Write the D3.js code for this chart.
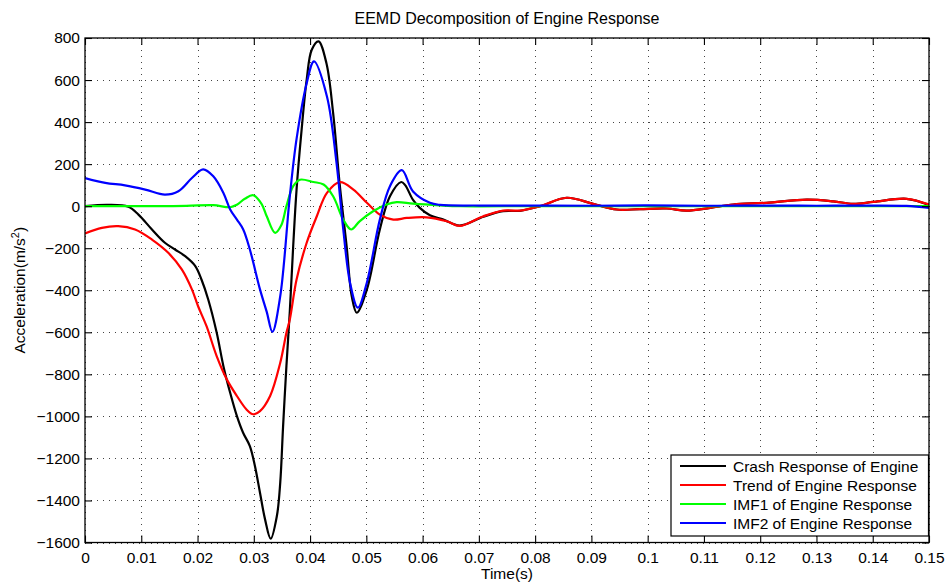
<!DOCTYPE html>
<html>
<head>
<meta charset="utf-8">
<script src="https://cdn.jsdelivr.net/npm/d3@7"></script>
<style>
  body { margin: 0; background: #fff; }
  svg { display: block; font-family: "Liberation Sans", Arial, Helvetica, sans-serif; }
</style>
</head>
<body>
<svg id="chart" width="947" height="585"></svg>
<script>
// ---- Data (time in s, acceleration in m/s^2) ----
const seriesNames = ["Crash Response of Engine", "Trend of Engine Response", "IMF1 of Engine Response", "IMF2 of Engine Response"];
const seriesColors = ["#000000", "#ff0000", "#00ff00", "#0000ff"];

const crash = [
  [0, 0], [0.0041, 6], [0.0077, -3], [0.0095, -40], [0.0119, -111], [0.0142, -174], [0.016, -206],
  [0.0178, -238], [0.0196, -285], [0.0207, -349], [0.0219, -444], [0.0234, -601], [0.0246, -761],
  [0.0258, -888], [0.027, -999], [0.0281, -1078], [0.0293, -1141], [0.0302, -1236], [0.0311, -1363],
  [0.032, -1490], [0.033, -1582], [0.0341, -1474], [0.0347, -1315], [0.0352, -1050], [0.0358, -760],
  [0.0364, -500], [0.037, -191], [0.0376, 79], [0.0385, 364], [0.0394, 602], [0.0403, 744],
  [0.0415, 784], [0.0429, 681], [0.0441, 443], [0.0453, 95], [0.0465, -191], [0.0474, -428],
  [0.0483, -507], [0.0501, -396], [0.0524, -111], [0.0542, 47], [0.0562, 115], [0.0569, 100],
  [0.0583, 30], [0.0595, -8], [0.0613, -43], [0.0637, -64], [0.0666, -92], [0.0708, -50],
  [0.0743, -24], [0.0773, -22], [0.0809, 0], [0.0856, 40], [0.0903, 11], [0.0945, -16],
  [0.0986, -14], [0.1034, -11], [0.1069, -21], [0.1111, -8], [0.1152, 8], [0.1211, 16],
  [0.1283, 31], [0.133, 23], [0.1365, 11], [0.1401, 20], [0.146, 35], [0.15, 6]
];

const trend = [
  [0, -130], [0.003, -103], [0.0059, -95], [0.0089, -111], [0.0119, -159], [0.0148, -222],
  [0.0172, -301], [0.019, -396], [0.0201, -476], [0.0216, -571], [0.0234, -713], [0.0252, -824],
  [0.027, -903], [0.0287, -967], [0.0299, -990], [0.0311, -975], [0.0329, -903], [0.0347, -745],
  [0.0358, -602], [0.0364, -539], [0.0376, -349], [0.0394, -174], [0.0412, -48], [0.043, 63],
  [0.0453, 114], [0.0477, 79], [0.0501, 16], [0.0524, -40], [0.0548, -64], [0.0572, -56],
  [0.0607, -53], [0.0643, -72], [0.0666, -94], [0.0708, -48], [0.0743, -21], [0.0773, -21],
  [0.0809, 0], [0.0856, 40], [0.0903, 11], [0.0945, -16], [0.0986, -14], [0.1034, -11],
  [0.1069, -21], [0.1111, -8], [0.1152, 8], [0.1211, 16], [0.1283, 31], [0.133, 23],
  [0.1365, 11], [0.1401, 20], [0.146, 35], [0.15, 8]
];

const imf1 = [
  [0, 0], [0.01, 0], [0.018, 1], [0.0228, 5], [0.0258, -5], [0.027, 7], [0.0284, 35],
  [0.0299, 52], [0.0314, 10], [0.0323, -48], [0.0338, -127], [0.0349, -90], [0.0358, 0],
  [0.037, 95], [0.0382, 126], [0.0406, 115], [0.0424, 103], [0.0441, 47], [0.0459, -64],
  [0.0473, -111], [0.0488, -72], [0.0512, -24], [0.0536, 8], [0.0554, 19], [0.0583, 12],
  [0.0631, 4], [0.0666, 0], [0.08, 0], [0.1, 0], [0.12, 0], [0.14, 0], [0.15, 0]
];

const imf2 = [
  [0, 134], [0.0036, 111], [0.0071, 99], [0.0107, 79], [0.0142, 55], [0.0166, 71], [0.019, 134],
  [0.021, 175], [0.0228, 142], [0.0246, 63], [0.0258, -16], [0.027, -64], [0.0281, -110],
  [0.0293, -206], [0.0311, -396], [0.0323, -503], [0.0333, -598], [0.0347, -428], [0.0364, 47],
  [0.0376, 320], [0.0394, 585], [0.0407, 689], [0.043, 522], [0.0447, 206], [0.0459, -111],
  [0.0471, -364], [0.0485, -483], [0.0501, -363], [0.0524, -64], [0.0542, 95], [0.0563, 171],
  [0.0583, 70], [0.0613, 16], [0.0631, 6], [0.07, 3], [0.08, 3], [0.09, 2], [0.1, 4],
  [0.11, 2], [0.12, 3], [0.13, 2], [0.14, 3], [0.146, 1], [0.15, -8]
];

const allSeries = [crash, trend, imf1, imf2];
const xTickLabels = ["0", "0.01", "0.02", "0.03", "0.04", "0.05", "0.06", "0.07", "0.08", "0.09", "0.1", "0.11", "0.12", "0.13", "0.14", "0.15"];
const yTickValues = [-1600, -1400, -1200, -1000, -800, -600, -400, -200, 0, 200, 400, 600, 800];

// ---- Layout ----
const svg = d3.select("#chart");
const mLeft = 85, mRight = 929, mTop = 38, mBottom = 542.5;
const x = d3.scaleLinear().domain([0, 0.15]).range([mLeft, mRight]);
const y = d3.scaleLinear().domain([-1600, 800]).range([mBottom, mTop]);
const fontSize = 15.5;
const tickLen = 7;

svg.append("rect").attr("x", 0).attr("y", 0).attr("width", 947).attr("height", 585).attr("fill", "#fff");

// grid
const grid = svg.append("g").attr("stroke", "#444").attr("stroke-width", 1).attr("stroke-dasharray", "1,5");
xTickLabels.forEach(l => {
  const xv = Math.round(x(+l)) + 0.5;
  grid.append("line").attr("x1", xv).attr("x2", xv).attr("y1", mTop).attr("y2", mBottom);
});
yTickValues.forEach(v => {
  const yv = Math.round(y(v)) + 0.5;
  grid.append("line").attr("x1", mLeft).attr("x2", mRight).attr("y1", yv).attr("y2", yv);
});

// curves
svg.append("clipPath").attr("id", "clip").append("rect")
  .attr("x", mLeft).attr("y", mTop - 2).attr("width", mRight - mLeft).attr("height", mBottom - mTop + 4);
const line = d3.line().x(d => x(d[0])).y(d => y(d[1])).curve(d3.curveCatmullRom.alpha(0.5));
const curves = svg.append("g").attr("clip-path", "url(#clip)");
[0, 1, 2, 3].forEach(i => {
  curves.append("path").datum(allSeries[i]).attr("d", line)
    .attr("fill", "none").attr("stroke", seriesColors[i]).attr("stroke-width", 2.2)
    .attr("stroke-linejoin", "round");
});

// axes box with inward ticks (MATLAB style)
const xAxisB = d3.axisBottom(x).tickValues(xTickLabels.map(Number)).tickSize(-tickLen).tickPadding(9)
  .tickFormat((d, i) => xTickLabels[i]);
const xAxisT = d3.axisTop(x).tickValues(xTickLabels.map(Number)).tickSize(-tickLen).tickFormat("");
const yAxisL = d3.axisLeft(y).tickValues(yTickValues).tickSize(-tickLen).tickPadding(5)
  .tickFormat(d3.format("d"));
const yAxisR = d3.axisRight(y).tickValues(yTickValues).tickSize(-tickLen).tickFormat("");

function style(g) {
  g.selectAll(".tick line").attr("stroke", "#000").attr("stroke-width", 1.1);
  g.selectAll(".tick text").attr("fill", "#000").attr("font-size", fontSize).attr("font-family", "Liberation Sans, Arial, sans-serif");
}
svg.append("g").attr("transform", `translate(0,${mBottom})`).call(xAxisB).call(style);
svg.append("g").attr("transform", `translate(0,${mTop})`).call(xAxisT).call(style);
svg.append("g").attr("transform", `translate(${mLeft},0)`).call(yAxisL).call(style);
svg.append("g").attr("transform", `translate(${mRight},0)`).call(yAxisR).call(style);
svg.selectAll("path.domain").remove();
svg.append("rect").attr("x", mLeft).attr("y", mTop).attr("width", mRight - mLeft).attr("height", mBottom - mTop)
  .attr("fill", "none").attr("stroke", "#000").attr("stroke-width", 1.3);

// title and labels
svg.append("text").attr("x", (mLeft + mRight) / 2).attr("y", 24).attr("text-anchor", "middle")
  .attr("font-size", 16).text("EEMD Decomposition of Engine Response");
svg.append("text").attr("x", (mLeft + mRight) / 2).attr("y", 579).attr("text-anchor", "middle")
  .attr("font-size", fontSize).text("Time(s)");
const yl = svg.append("text").attr("transform", `translate(25,${(mTop + mBottom) / 2}) rotate(-90)`)
  .attr("text-anchor", "middle").attr("font-size", fontSize);
yl.append("tspan").text("Acceleration(m/s");
yl.append("tspan").attr("font-size", fontSize * 0.7).attr("dy", -6).text("2");
yl.append("tspan").attr("dy", 6).text(")");

// legend
const lg = svg.append("g");
lg.append("rect").attr("x", 671).attr("y", 455).attr("width", 257.5).attr("height", 81)
  .attr("fill", "#fff").attr("stroke", "#000").attr("stroke-width", 1.2);
seriesNames.forEach((name, i) => {
  const ly = 466 + i * 19;
  lg.append("line").attr("x1", 680).attr("x2", 726).attr("y1", ly).attr("y2", ly)
    .attr("stroke", seriesColors[i]).attr("stroke-width", 2.2);
  lg.append("text").attr("x", 733).attr("y", ly + 5.5).attr("font-size", fontSize).text(name);
});
</script>
</body>
</html>
